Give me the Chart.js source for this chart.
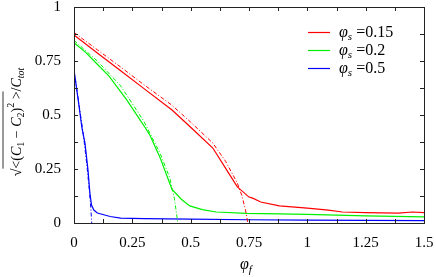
<!DOCTYPE html>
<html>
<head>
<meta charset="utf-8">
<script src="https://cdn.jsdelivr.net/npm/chart.js@4/dist/chart.umd.min.js"></script>
<style>
  html, body { margin: 0; padding: 0; background: #fff; }
  #wrap { width: 436px; height: 277px; }
</style>
</head>
<body>
<div id="wrap"><canvas id="chart"></canvas></div>
<script>
const redX = [0, 0.1, 0.2, 0.3, 0.42, 0.5, 0.595, 0.65, 0.7, 0.75, 0.766, 0.8, 0.88, 1.0, 1.09, 1.15, 1.25, 1.39, 1.45, 1.5];
const redY = [0.87, 0.787, 0.705, 0.622, 0.523, 0.443, 0.347, 0.253, 0.167, 0.12, 0.115, 0.097, 0.079, 0.069, 0.06, 0.051, 0.048, 0.046, 0.051, 0.048];
const redFitX = [0, 0.1, 0.2, 0.3, 0.42, 0.5, 0.595, 0.65, 0.7, 0.72, 0.735, 0.745];
const redFitY = [0.882, 0.802, 0.722, 0.64, 0.545, 0.467, 0.37, 0.285, 0.185, 0.125, 0.06, 0];

const greenX = [0, 0.05, 0.1, 0.15, 0.226, 0.3, 0.325, 0.37, 0.42, 0.46, 0.496, 0.55, 0.61, 0.74, 0.88, 1.0, 1.25, 1.5];
const greenY = [0.835, 0.79, 0.735, 0.68, 0.57, 0.45, 0.407, 0.3, 0.155, 0.11, 0.079, 0.062, 0.051, 0.045, 0.042, 0.04, 0.033, 0.028];
const greenFitX = [0, 0.1, 0.2, 0.3, 0.37, 0.41, 0.43, 0.445];
const greenFitY = [0.845, 0.75, 0.635, 0.47, 0.32, 0.21, 0.115, 0];

const blueX = [0, 0.018, 0.034, 0.047, 0.06, 0.068, 0.075, 0.085, 0.1, 0.155, 0.2, 0.3, 0.5, 0.75, 1.0, 1.25, 1.5];
const blueY = [0.708, 0.57, 0.44, 0.37, 0.245, 0.14, 0.083, 0.06, 0.046, 0.03, 0.023, 0.02, 0.018, 0.015, 0.013, 0.012, 0.011];
const blueFitX = [0, 0.02, 0.04, 0.055, 0.065, 0.072, 0.076];
const blueFitY = [0.71, 0.56, 0.41, 0.27, 0.16, 0.07, 0];

const legendNames = ['0.15', '0.2', '0.5'];
const colors = ['#ff0000', '#00f000', '#0000ff'];

const FONT = '"Liberation Serif", "DejaVu Serif", serif';

function pts(xs, ys) {
    return xs.map((x, i) => ({x: x, y: ys[i]}));
}

function solid(xs, ys, c) {
    return {data: pts(xs, ys), borderColor: c, borderWidth: 1.2, pointRadius: 0, fill: false, tension: 0};
}
function fit(xs, ys, c) {
    return {data: pts(xs, ys), borderColor: c, borderWidth: 1, borderDash: [4, 2, 1, 2], pointRadius: 0, fill: false, tension: 0};
}

// draws a row of text pieces (with sub/superscripts), returns width
function runs(ctx, parts, x, y, size, measureOnly) {
    let cx = x;
    parts.forEach(p => {
        const s = p.small ? Math.round(size * 0.7) : size;
        ctx.font = (p.it ? 'italic ' : '') + s + 'px ' + FONT;
        const w = ctx.measureText(p.t).width;
        if (!measureOnly) ctx.fillText(p.t, cx, y + (p.dy || 0));
        p.x0 = cx; p.x1 = cx + w;
        cx += w;
    });
    return cx - x;
}

const frame = {
    id: 'frame',
    afterDraw(chart) {
        const ctx = chart.ctx;
        const a = chart.chartArea;
        const xs = chart.scales.x, ys = chart.scales.y;
        ctx.save();
        ctx.strokeStyle = '#222';
        ctx.lineWidth = 1;
        ctx.strokeRect(Math.round(a.left) + 0.5, Math.round(a.top) + 0.5, Math.round(a.right - a.left), Math.round(a.bottom - a.top));
        ctx.beginPath();
        for (let v = 0; v <= 1.5001; v += 0.125) {
            const px = Math.round(xs.getPixelForValue(v)) + 0.5;
            ctx.moveTo(px, a.bottom); ctx.lineTo(px, a.bottom - 4);
            ctx.moveTo(px, a.top); ctx.lineTo(px, a.top + 4);
        }
        for (let v = 0; v <= 1.0001; v += 0.125) {
            const py = Math.round(ys.getPixelForValue(v)) + 0.5;
            ctx.moveTo(a.left, py); ctx.lineTo(a.left + 4, py);
            ctx.moveTo(a.right, py); ctx.lineTo(a.right - 4, py);
        }
        ctx.stroke();

        // legend
        ctx.fillStyle = '#000';
        ctx.textBaseline = 'middle';
        legendNames.forEach((n, i) => {
            const ly = 32 + i * 18;
            ctx.strokeStyle = colors[i];
            ctx.lineWidth = 1.2;
            ctx.beginPath();
            ctx.moveTo(308, ly + 0.5); ctx.lineTo(330, ly + 0.5);
            ctx.stroke();
            runs(ctx, [{t: 'φ', it: true}, {t: 's', it: true, small: true, dy: 4}, {t: ' =' + n}], 339, ly + 1, 16);
        });

        // x axis title
        ctx.textBaseline = 'alphabetic';
        runs(ctx, [{t: 'φ', it: true}, {t: 'f', it: true, small: true, dy: 4}], 240, 269, 16);

        // y axis title, rotated
        ctx.translate(17, 122);
        ctx.rotate(-Math.PI / 2);
        const yParts = [
            {t: '√'}, {t: '<('}, {t: 'C', it: true}, {t: '1', small: true, dy: 4},
            {t: ' − '}, {t: 'C', it: true}, {t: '2', small: true, dy: 4}, {t: ')'},
            {t: '2', small: true, dy: -6}, {t: ' >'}, {t: '/'}, {t: 'C', it: true},
            {t: 'tot', it: true, small: true, dy: 4}
        ];
        const w = runs(ctx, yParts, 0, 0, 14, true);
        ctx.textBaseline = 'middle';
        runs(ctx, yParts, -w / 2, 0, 14);
        ctx.strokeStyle = '#000';
        ctx.lineWidth = 0.8;
        ctx.beginPath();
        ctx.moveTo(yParts[1].x0, -14);
        ctx.lineTo(yParts[9].x1, -14);
        ctx.stroke();
        ctx.restore();
    }
};

new Chart(document.getElementById('chart'), {
    type: 'line',
    data: {
        datasets: [
            solid(redX, redY, colors[0]),
            fit(redFitX, redFitY, colors[0]),
            solid(greenX, greenY, colors[1]),
            fit(greenFitX, greenFitY, colors[1]),
            solid(blueX, blueY, colors[2]),
            fit(blueFitX, blueFitY, colors[2])
        ]
    },
    options: {
        responsive: true,
        maintainAspectRatio: false,
        animation: false,
        layout: {padding: {left: 0, right: 12, top: 7, bottom: 0}},
        plugins: {legend: {display: false}, tooltip: {enabled: false}},
        scales: {
            x: {
                type: 'linear', min: 0, max: 1.5,
                grid: {display: false, drawTicks: false},
                border: {display: false},
                ticks: {stepSize: 0.25, padding: 11, color: '#000', font: {family: FONT, size: 15}, maxRotation: 0,
                        autoSkip: false, callback: v => String(v)},
                afterFit: s => { s.height = 54; s.paddingLeft = 0; s.paddingRight = 0; }
            },
            y: {
                type: 'linear', min: 0, max: 1,
                grid: {display: false, drawTicks: false},
                border: {display: false},
                ticks: {stepSize: 0.25, padding: 13, color: '#000', font: {family: FONT, size: 15},
                        autoSkip: false, callback: v => String(v)},
                afterFit: s => { s.width = 74; s.paddingTop = 0; s.paddingBottom = 0; }
            }
        }
    },
    plugins: [frame]
});
</script>
</body>
</html>
